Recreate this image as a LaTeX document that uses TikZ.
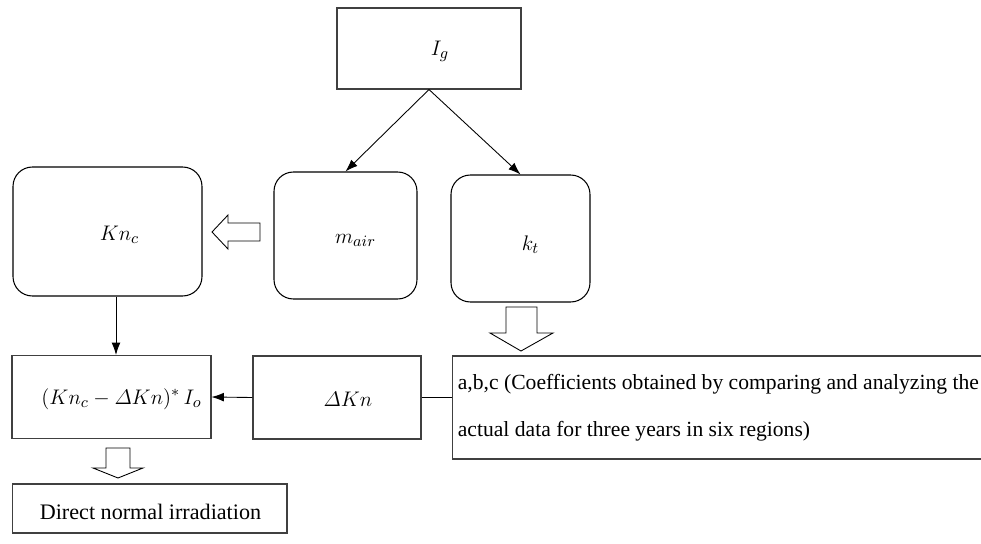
\documentclass[tikz,border=0pt]{standalone}
\usepackage{amsmath,amssymb}
\usepackage{fontspec}
\setmainfont{Liberation Serif}
\usetikzlibrary{arrows.meta,calc,positioning}

\begin{document}
\begin{tikzpicture}[x=0.02cm, y=-0.02cm, >={Latex[length=7pt,width=5pt]}, line join=miter,
		box/.style={draw=black!75, line width=0.6pt, inner sep=0pt},
		rbox/.style={draw, line width=0.6pt, rounded corners=11pt, inner sep=0pt},
		txt/.style={inner sep=0pt, font=\fontsize{12.5}{15}\selectfont},
		link/.style={->, line width=0.5pt},
		hollow/.style={draw, line width=0.5pt}]
		
		\useasboundingbox (0,0) rectangle (981,544);
		\clip (0,0) rectangle (981,544);
		
		% top: global irradiation
		\node[box, minimum width=3.68cm, minimum height=1.62cm] (Ig) at (429,48.5) {};
		\node[txt] (Ig-t) at ([shift={(11,3)}]Ig.center) {$I_g$};
		
		% middle row: rounded boxes
		\node[rbox, minimum width=3.78cm, minimum height=2.58cm] (Kn) at (107.5,231.5) {};
		\node[txt] (Kn-t) at ([shift={(12,3)}]Kn.center) {$Kn_c$};
		\node[rbox, minimum width=2.86cm, minimum height=2.54cm] (mair) at (345.5,235.5) {};
		\node[txt] (mair-t) at ([shift={(10,5)}]mair.center) {$m_{air}$};
		\node[rbox, minimum width=2.78cm, minimum height=2.54cm] (kt) at (520.5,238.5) {};
		\node[txt] (kt-t) at ([shift={(10,6)}]kt.center) {$k_t$};
		
		% bottom row
		\node[box, minimum width=3.98cm, minimum height=1.66cm] (form) at (111.5,397) {};
		\node[txt] (form-t) at ([shift={(10,2)}]form.center) {$(Kn_c-\varDelta Kn)^{*}\,I_o$};
		\node[box, minimum width=3.36cm, minimum height=1.66cm] (dkn) at (337,397.5) {};
		\node[txt] (dkn-t) at ([shift={(11,2)}]dkn.center) {$\varDelta Kn$};
		\node[box, minimum width=10.96cm, minimum height=2.06cm] (abc) at (726,407.5) {};
		\node[anchor=west, align=left, inner sep=0pt, font=\fontsize{12.3}{26.7}\selectfont] (abc-t) at ([xshift=0.12cm]abc.west)
			{a,b,c (Coefficients obtained by comparing and analyzing the\\actual data for three years in six regions)};
		\node[box, minimum width=5.5cm, minimum height=0.98cm] (dni) at (149.5,508.5) {};
		\node[inner sep=0pt, font=\fontsize{12.6}{15}\selectfont] (dni-t) at ([shift={(1,3)}]dni.center) {Direct normal irradiation};
		
		% connectors
		\draw[link] (Ig.south) -- (mair.north);
		\draw[link] (Ig.south) -- (kt.north);
		\draw[link] ([xshift=0.17cm]Kn.south) -- ([xshift=0.17cm]Kn.south |- form.north);
		\draw[link] (dkn.west) -- (form.east);
		\draw[line width=0.5pt] (dkn.east) -- (dkn.east -| abc.west);
		
		% hollow block arrows
		\coordinate (tipL) at (212,232);
		\draw[hollow] (tipL) -- ++(16,-17) -- ++(0,8) -- ++(32,0) -- ++(0,18) -- ++(-32,0) -- ++(0,8) -- cycle;
		\coordinate (tipK) at (521,351);
		\draw[hollow] (tipK) -- ++(-31,-18) -- ++(16,0) -- ++(0,-26) -- ++(31,0) -- ++(0,26) -- ++(16,0) -- cycle;
		\coordinate (tipF) at (118,478);
		\draw[hollow] (tipF) -- ++(-25,-10) -- ++(13,0) -- ++(0,-20) -- ++(24,0) -- ++(0,20) -- ++(13,0) -- cycle;
		
	\end{tikzpicture}
\end{document}
